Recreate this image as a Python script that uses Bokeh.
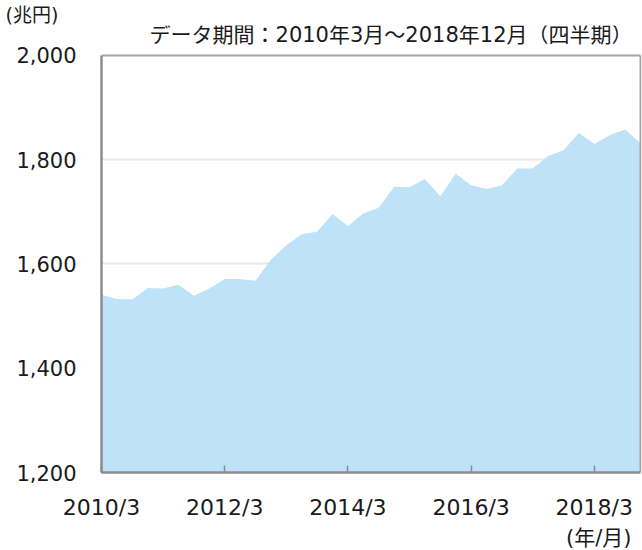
from bokeh.plotting import figure
from bokeh.models import FixedTicker, NumeralTickFormatter, Range1d, Title, Label
from bokeh.embed import file_html
from bokeh.resources import INLINE

# Quarter-end months, 2010/3 .. 2018/12
quarters = [f"{y}/{m}" for y in range(2010, 2019) for m in (3, 6, 9, 12)]
# Values (兆円)
values = [
    1541, 1533, 1532, 1554,
    1553, 1560, 1539, 1553,
    1571, 1571, 1568, 1608,
    1636, 1657, 1662, 1696,
    1673, 1697, 1708, 1748,
    1747, 1763, 1730, 1773,
    1751, 1744, 1751, 1783,
    1783, 1807, 1818, 1851,
    1830, 1847, 1858, 1832,
]
y_ticks = [1200, 1400, 1600, 1800, 2000]
grid_ticks = [1400, 1600, 1800]
x_tick_labels = ["2010/3", "2012/3", "2014/3", "2016/3", "2018/3"]
unit_label = "(兆円)"
period_label = "データ期間：2010年3月～2018年12月（四半期）"
x_unit_label = "(年/月)"

FONT = "DejaVu Sans, Noto Sans CJK JP"
TXT = "#1A1A1A"
AXIS = "#8C8C8C"

# ---- layout (pixels) ----
W, H = 642, 550
LEFT, RIGHT, TOP, BOTTOM = 101, 1, 25, 77
PLOT_TOP_PX = 55          # where the y maximum sits on the canvas
frame_w = W - LEFT - RIGHT
frame_h = H - TOP - BOTTOM

x = list(range(len(quarters)))
x_last = x[-1]
y_min, y_max = y_ticks[0], y_ticks[-1]
px_per_q = (frame_w - 1) / x_last
per_px_y = (y_max - y_min) / (frame_h - (PLOT_TOP_PX - TOP))
y_end = y_max + (PLOT_TOP_PX - TOP) * per_px_y

p = figure(width=W, height=H, output_backend="svg", toolbar_location=None,
           x_range=Range1d(0, x_last + 1 / px_per_q), y_range=Range1d(y_min, y_end),
           min_border_left=LEFT, min_border_right=RIGHT, min_border_top=TOP,
           min_border_bottom=BOTTOM)

p.background_fill_color = "white"
p.border_fill_color = "white"
p.outline_line_color = None

# grid (dotted, under the area)
p.xgrid.grid_line_color = None
p.ygrid.ticker = FixedTicker(ticks=grid_ticks)
p.ygrid.grid_line_color = "#CFCFCF"
p.ygrid.grid_line_width = 2
p.ygrid.grid_line_dash = "1 1"

# area
p.varea(x=x, y1=[y_min] * len(x), y2=values, fill_color="#BEE3F8", fill_alpha=1.0)

# top and right borders of the plot box
p.segment(x0=[0, x_last], y0=[y_max, y_min], x1=[x_last, x_last], y1=[y_max, y_max],
          line_color="#A6A6A6", line_width=2)

# x axis
xt = [quarters.index(l) for l in x_tick_labels]
p.xaxis.bounds = (0, x_last)
p.xaxis.ticker = FixedTicker(ticks=xt)
p.xaxis.major_label_overrides = {i: l for i, l in zip(xt, x_tick_labels)}
p.xaxis.major_tick_in = 7
p.xaxis.major_tick_out = 0
p.xaxis.major_tick_line_color = AXIS
p.xaxis.major_tick_line_width = 1.5
p.xaxis.minor_tick_line_color = None
p.xaxis.axis_line_color = AXIS
p.xaxis.axis_line_width = 2.5
p.xaxis.major_label_standoff = 22
p.xaxis.major_label_text_font = FONT
p.xaxis.major_label_text_font_size = "22px"
p.xaxis.major_label_text_color = TXT

# y axis
p.yaxis.bounds = (y_min, y_max)
p.yaxis.ticker = FixedTicker(ticks=y_ticks)
p.yaxis.formatter = NumeralTickFormatter(format="0,0")
p.yaxis.major_tick_line_color = None
p.yaxis.minor_tick_line_color = None
p.yaxis.major_tick_in = 0
p.yaxis.major_tick_out = 0
p.yaxis.axis_line_color = AXIS
p.yaxis.axis_line_width = 2.5
p.yaxis.major_label_standoff = 25
p.yaxis.major_label_text_font = FONT
p.yaxis.major_label_text_font_size = "21px"
p.yaxis.major_label_text_color = TXT

# unit label (top-left) as the plot title
p.title.text = unit_label
p.title.align = "left"
p.title.offset = 5 - LEFT
p.title.standoff = 0
p.title.text_font = FONT
p.title.text_font_size = "19px"
p.title.text_font_style = "normal"
p.title.text_color = TXT

# data period (top-right), inside the extended frame above the maximum
p.add_layout(Label(x=x_last - 8 / px_per_q, y=y_max + 20 * per_px_y, text=period_label,
                   text_font=FONT, text_font_size="21px", text_color=TXT,
                   text_align="right", text_baseline="middle"))

# x unit label under the axis labels
p.add_layout(Title(text=x_unit_label, align="right", offset=10, standoff=2,
                   text_font=FONT, text_font_size="21px", text_color=TXT,
                   text_font_style="normal"), "below")

open("out.html", "w").write(file_html(p, INLINE))
